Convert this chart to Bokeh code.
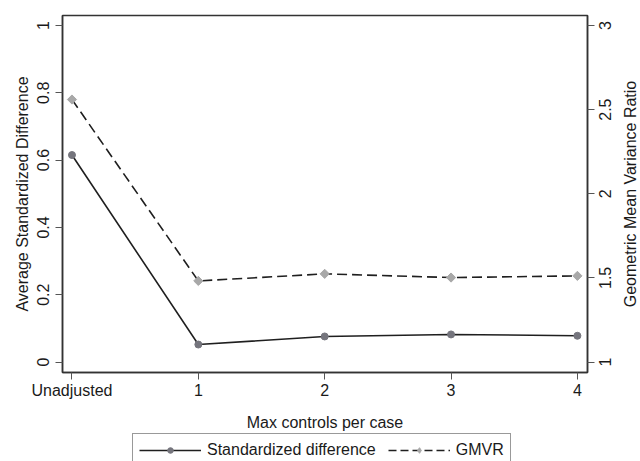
import math
from bokeh.plotting import figure
from bokeh.layouts import row, column
from bokeh.models import (Range1d, LinearAxis, FixedTicker, NumeralTickFormatter,
                          Legend, LegendItem)
from bokeh.core.properties import value
from bokeh.embed import file_html
from bokeh.resources import INLINE

# ---- data ----
categories = ["Unadjusted", "1", "2", "3", "4"]
std_diff = [0.615, 0.052, 0.076, 0.082, 0.078]
gmvr = [2.56, 1.482, 1.524, 1.502, 1.512]
left_ticks = [0, 0.2, 0.4, 0.6, 0.8, 1]
right_ticks = [1, 1.5, 2, 2.5, 3]
right_tick_labels = ["1", "1.5", "2", "2.5", "3"]
series_names = ["Standardized difference", "GMVR"]
x_title = "Max controls per case"
left_title = "Average Standardized Difference"
right_title = "Geometric Mean Variance Ratio"

x = list(range(len(categories)))

FONT = "Liberation Sans"
TXT = "#1a1a1a"
LINE = "#1f1f1f"
C_DOT = "#75757d"
C_DIA = "#a8a8a8"
DASH = "10 5"

gm_range = Range1d(0.9378, 3.0593)

# ---------------- main plot ----------------
p = figure(width=596, height=433, output_backend="svg", toolbar_location=None,
           x_range=Range1d(-0.075, 4.08), y_range=Range1d(-0.0311, 1.0296),
           min_border_left=62, min_border_right=9, min_border_top=15,
           min_border_bottom=60)
p.extra_y_ranges = {"gmvr": gm_range}

p.xgrid.visible = False
p.ygrid.visible = False
p.outline_line_color = "#333333"
p.outline_line_width = 1.5
p.background_fill_color = "white"
p.border_fill_color = "white"


def style_axis(ax):
    ax.axis_line_color = "#333333"
    ax.axis_line_width = 1.5
    ax.major_tick_out = 7
    ax.major_tick_in = 0
    ax.major_tick_line_color = "#555555"
    ax.major_tick_line_width = 1
    ax.minor_tick_out = 0
    ax.minor_tick_in = 0
    ax.minor_tick_line_color = None
    ax.major_label_text_font = FONT
    ax.major_label_text_font_size = "16px"
    ax.major_label_text_color = TXT
    ax.axis_label_text_font = FONT
    ax.axis_label_text_font_size = "16px"
    ax.axis_label_text_font_style = "normal"
    ax.axis_label_text_color = TXT


xa = p.xaxis[0]
style_axis(xa)
xa.ticker = FixedTicker(ticks=x)
xa.major_label_overrides = {i: c for i, c in enumerate(categories)}
xa.major_label_standoff = 2
xa.axis_label = x_title
xa.axis_label_standoff = 12

ya = p.yaxis[0]
style_axis(ya)
ya.ticker = FixedTicker(ticks=left_ticks)
ya.formatter = NumeralTickFormatter(format="0.[0]")
ya.major_label_orientation = "vertical"
ya.major_label_standoff = 6
ya.axis_label = left_title
ya.axis_label_standoff = 4

# right axis: tick marks only (labels drawn in the side panel figure)
ra = LinearAxis(y_range_name="gmvr")
style_axis(ra)
ra.ticker = FixedTicker(ticks=right_ticks)
ra.major_label_overrides = {t: "" for t in right_ticks}
ra.major_label_standoff = 0
p.add_layout(ra, "right")

p.line(x, std_diff, line_color=LINE, line_width=1.6)
p.scatter(x, std_diff, marker="circle", size=7, fill_color=C_DOT, line_color=C_DOT)
p.line(x, gmvr, y_range_name="gmvr", line_color=LINE, line_width=1.6, line_dash=DASH)
p.scatter(x, gmvr, y_range_name="gmvr", marker="square", angle=math.pi / 4,
          size=6.5, fill_color=C_DIA, line_color=C_DIA)

# ---------------- right axis labels panel ----------------
pr = figure(width=44, height=433, output_backend="svg", toolbar_location=None,
            x_range=Range1d(0, 44), y_range=Range1d(gm_range.start, gm_range.end),
            min_border_left=0, min_border_right=0, min_border_top=15,
            min_border_bottom=60, x_axis_location=None, y_axis_location=None)
pr.outline_line_color = None
pr.xgrid.visible = False
pr.ygrid.visible = False
pr.background_fill_color = "white"
pr.border_fill_color = "white"
pr.text(x=[8] * len(right_ticks), y=right_ticks, text=right_tick_labels,
        angle=math.pi / 2, text_align="center", text_baseline="middle",
        text_font=value(FONT), text_font_size="16px", text_color=TXT)
pr.text(x=[34], y=[(gm_range.start + gm_range.end) / 2], text=[right_title],
        angle=math.pi / 2, text_align="center", text_baseline="middle",
        text_font=value(FONT), text_font_size="16px", text_color=TXT)

# ---------------- legend strip ----------------
pl = figure(width=640, height=28, output_backend="svg", toolbar_location=None,
            x_range=Range1d(0, 640), y_range=Range1d(0, 28),
            min_border_left=0, min_border_right=0, min_border_top=0,
            min_border_bottom=0, x_axis_location=None, y_axis_location=None)
pl.outline_line_color = None
pl.xgrid.visible = False
pl.ygrid.visible = False
pl.background_fill_color = "white"
pl.border_fill_color = "white"
# legend key renderers (hidden; only their legend swatches are shown)
k1 = pl.line(x, std_diff, line_color=LINE, line_width=1.6, visible=False)
k1s = pl.scatter(x, std_diff, marker="circle", size=7, fill_color=C_DOT,
                 line_color=C_DOT, visible=False)
k2 = pl.line(x, gmvr, line_color=LINE, line_width=1.6, line_dash="8 4", visible=False)
k2s = pl.scatter(x, gmvr, marker="diamond", size=7, fill_color=C_DIA,
                 line_color=C_DIA, visible=False)

legend = Legend(items=[LegendItem(label=series_names[0], renderers=[k1, k1s]),
                       LegendItem(label=series_names[1], renderers=[k2, k2s])],
                orientation="horizontal", location=(132, -6))
legend.border_line_color = "#333333"
legend.border_line_width = 1
legend.background_fill_color = "white"
legend.background_fill_alpha = 1
legend.inactive_fill_alpha = 0
legend.label_text_font = FONT
legend.label_text_font_size = "16px"
legend.label_text_color = TXT
legend.glyph_width = 62
legend.glyph_height = 14
legend.label_height = 20
legend.label_standoff = 6
legend.spacing = 12
legend.padding = 6
legend.margin = 0
pl.add_layout(legend, "center")

layout = column(row(p, pr, spacing=0), pl, spacing=0)

open("out.html", "w").write(file_html(layout, INLINE))
